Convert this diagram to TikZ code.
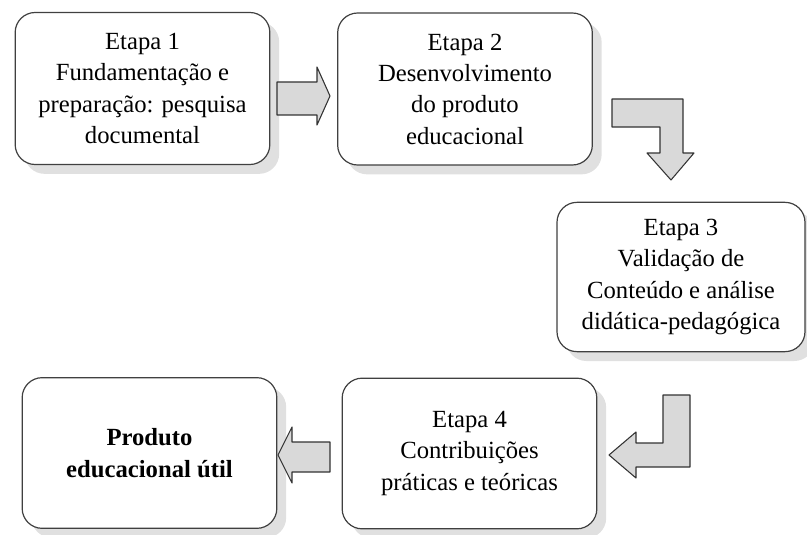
\documentclass[tikz,border=0pt]{standalone}
\usepackage{fontspec}
\setmainfont{Liberation Serif}
\usepackage{tikz}
\usetikzlibrary{shadows}

\tikzset{
  etapa/.style={draw=black!75, line width=0.9pt, rounded corners=15pt, fill=white,
    minimum width=191pt, minimum height=114pt, align=center,
    font=\fontsize{18.5}{23.5}\selectfont,
    drop shadow={shadow xshift=7pt, shadow yshift=-7pt, fill=black!12, opacity=1}},
  seta/.style={draw=black!80, line width=0.8pt, fill=black!15, line join=round}
}

\begin{document}
\begin{tikzpicture}[x=0.75pt,y=-0.75pt]
  \useasboundingbox (0,0) rectangle (807,535);
  \begin{scope}
  \clip (0,0) rectangle (807,535);
  % etapas
  \node [etapa] (etapa1) at (142.5,88.5) {Etapa 1\\Fundamentação e\\preparação: pesquisa\\documental};
  \node [etapa] (etapa2) at (465,89) {Etapa 2\\Desenvolvimento\\do produto\\educacional};
  \node [etapa, minimum width=186pt, minimum height=112pt] (etapa3) at (681,277) {Etapa 3\\Validação de\\Conteúdo e análise\\didática-pedagógica};
  \node [etapa, minimum height=113pt] (etapa4) at (469.5,453.5) {Etapa 4\\Contribuições\\práticas e teóricas};
  \node [etapa, minimum height=113pt] (produto) at (149.5,453) {\textbf{Produto}\\\textbf{educacional útil}};
  \end{scope}
  % setas
  \draw [seta] (277,82) -- (317,82) -- (317,67) -- (330,96) -- (317,125) -- (317,115) -- (277,115) -- cycle;
  \draw [seta] (612,99) -- (683,99) -- (683,153) -- (694,153) -- (671,180) -- (647,153) -- (660,153) -- (660,127) -- (612,127) -- cycle;
  \draw [seta] (663,395) -- (690,395) -- (690,467) -- (636,467) -- (636,478) -- (609,455) -- (636,432) -- (636,443) -- (663,443) -- cycle;
  \draw [seta] (330,442) -- (292,442) -- (292,427) -- (278,455) -- (292,483) -- (292,472) -- (330,472) -- cycle;
\end{tikzpicture}
\end{document}
